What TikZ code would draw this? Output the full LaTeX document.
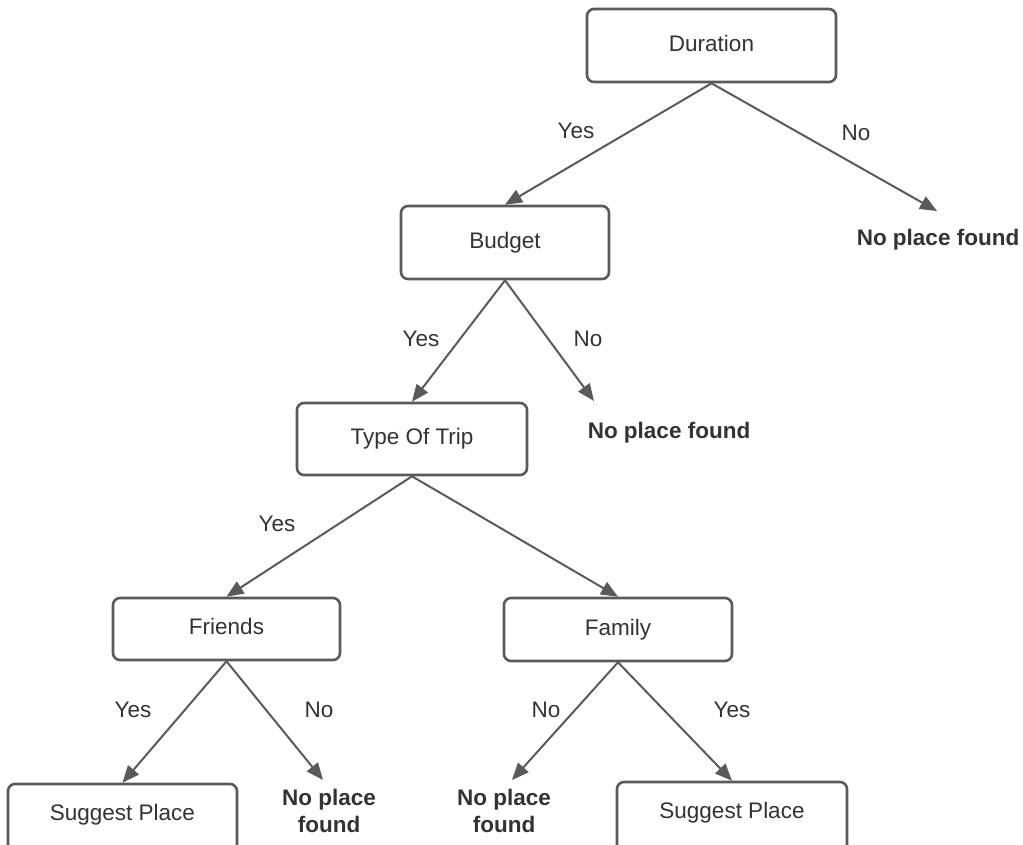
\documentclass[tikz,border=0pt]{standalone}
\usepackage{fontspec}
\setmainfont{Liberation Sans}
\usetikzlibrary{arrows.meta}
\definecolor{edge}{HTML}{5A5A5A}
\definecolor{ink}{HTML}{333333}
\tikzset{
  decision/.style={draw=edge, line width=2.6pt, rounded corners=7pt, fill=white,
    text=ink, font=\fontsize{22.5}{27}\selectfont, inner sep=0pt,
    text height=16pt, text depth=4.5pt, align=center},
  % leaf boxes run past the lower edge, so their text sits above centre
  leafbox/.style={decision, minimum width=229pt, minimum height=70pt,
    text depth=14pt},
  outcome/.style={text=ink, font=\fontsize{22.5}{27}\selectfont\bfseries,
    align=center, inner sep=0pt},
  answer/.style={text=ink, font=\fontsize{22.5}{27}\selectfont, inner sep=0pt},
  branch/.style={draw=edge, line width=2pt,
    -{Triangle[length=17pt,width=14pt]}},
}
\begin{document}
\begin{tikzpicture}[x=1pt, y=-1pt]
\useasboundingbox (0,0) rectangle (1023,844);
\clip (0,0) rectangle (1023,844);

% decision boxes
\node[decision, minimum width=249pt, minimum height=73pt] (dur) at (711.5,45.5) {Duration};
\node[decision, minimum width=208pt, minimum height=73pt] (bud) at (505,242.5) {Budget};
\node[decision, minimum width=230pt, minimum height=72pt] (tot) at (412,439) {Type Of Trip};
\node[decision, minimum width=227pt, minimum height=62pt] (fri) at (226.5,629) {Friends};
\node[decision, minimum width=228pt, minimum height=63pt] (fam) at (618,629.5) {Family};
\node[leafbox] (sp1) at (122.5,819) {Suggest Place};
\node[leafbox, minimum width=230pt] (sp2) at (732,817) {Suggest Place};

% dead ends
\node[outcome] (np1) at (938,240) {No place found};
\node[outcome] (np2) at (669,433) {No place found};
\node[outcome] (np3) at (329,811) {No place\\found};
\node[outcome] (np4) at (504,811) {No place\\found};

\coordinate (e1) at (937,211);
\coordinate (e2) at (594,401);
\coordinate (e3) at (323,780);
\coordinate (e4) at (512,780);

% branches
\draw[branch] (dur.south) -- (bud.north);
\draw[branch] (dur.south) -- (e1);
\draw[branch] (bud.south) -- (tot.north);
\draw[branch] (bud.south) -- (e2);
\draw[branch] (tot.south) -- (fri.north);
\draw[branch] (tot.south) -- (fam.north);
\draw[branch] (fri.south) -- (sp1.north);
\draw[branch] (fri.south) -- (e3);
\draw[branch] (fam.south) -- (e4);
\draw[branch] (fam.south) -- (sp2.north);

% branch answers
\node[answer] (a1) at (576,131) {Yes};
\node[answer] (a2) at (856,133) {No};
\node[answer] (a3) at (421,339) {Yes};
\node[answer] (a4) at (588,339) {No};
\node[answer] (a5) at (277,524) {Yes};
\node[answer] (a6) at (133,710) {Yes};
\node[answer] (a7) at (319,710) {No};
\node[answer] (a8) at (546,710) {No};
\node[answer] (a9) at (732,710) {Yes};
\end{tikzpicture}
\end{document}
